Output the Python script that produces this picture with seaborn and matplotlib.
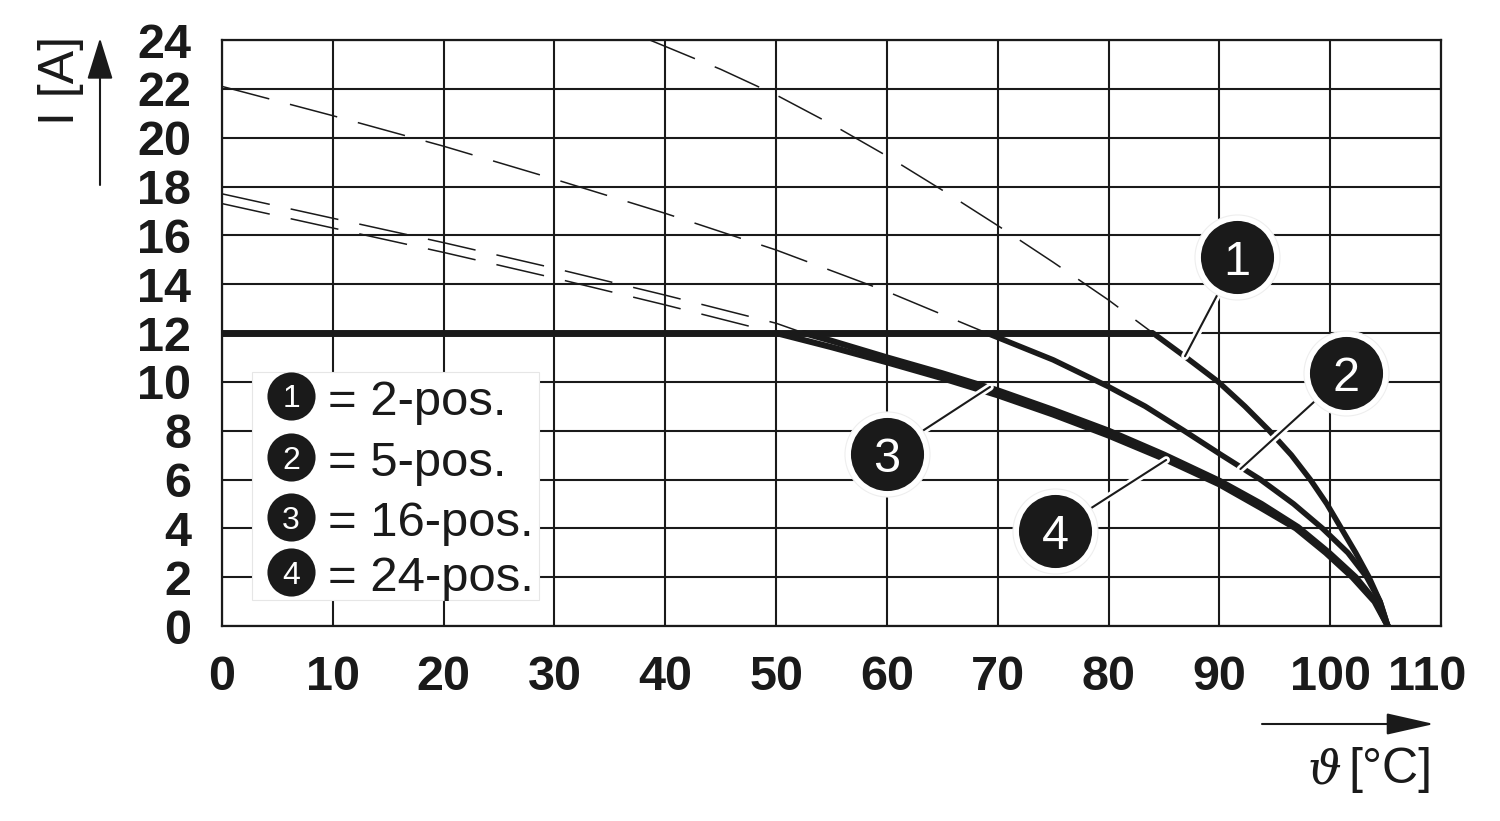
import matplotlib
matplotlib.use("Agg")
import matplotlib.pyplot as plt
from matplotlib.patches import FancyArrowPatch, Rectangle
from matplotlib.transforms import ScaledTranslation
import pandas as pd
import seaborn as sns

INK = "#1a1a1a"

# --- data ---
x_ticks = list(range(0, 111, 10))
y_ticks = list(range(0, 25, 2))

limit_temp = [0, 84]
limit_current = [12, 12]

# extrapolated, dashed parts
dash1_temp = [38.6, 45, 50, 55, 60, 65, 70, 75, 80, 84]
dash1_current = [24, 22.8, 21.75, 20.55, 19.25, 17.85, 16.4, 14.9, 13.35, 12]
dash2_temp = [0, 10, 20, 30, 40, 50, 60, 69]
dash2_current = [22.1, 20.9, 19.65, 18.3, 16.9, 15.4, 13.7, 12]
dash3_temp = [0, 10, 20, 30, 40, 50, 52.5]
dash3_current = [17.7, 16.7, 15.7, 14.65, 13.55, 12.4, 12]
dash4_temp = [0, 10, 20, 30, 40, 50]
dash4_current = [17.3, 16.3, 15.3, 14.25, 13.15, 12]

# derating curves, solid parts
curve1_temp = [84, 87, 89.9, 92.3, 94.5, 96.5, 98.2, 99.7, 101, 102.3, 103.5, 104.5, 105.2]
curve1_current = [12, 11, 10, 9, 8, 7, 6, 5, 4, 3, 2, 1, 0]
curve2_temp = [69, 72, 75, 80, 83.3, 86.8, 90.2, 93.7, 96.7, 99.3, 101.6, 103.3, 104.5, 105.2]
curve2_current = [12, 11.45, 10.9, 9.8, 9, 8, 7, 6, 5, 4, 3, 2, 1, 0]
curve3_temp = [52.5, 55, 60, 65, 70, 75, 80, 85, 90, 93.8, 97.1, 99.9, 102.3, 104.1, 105.2]
curve3_current = [12, 11.68, 11, 10.35, 9.65, 8.85, 8, 7.02, 5.95, 5, 4.05, 3, 2, 1, 0]
curve4_temp = [50, 55, 60, 65, 70, 75, 80, 85, 90, 93.7, 96.9, 99.6, 102, 104, 105.2]
curve4_current = [12, 11.42, 10.8, 10.15, 9.45, 8.66, 7.8, 6.85, 5.8, 4.85, 4, 3, 2, 1, 0]

# numbered callouts and what they point at
badge_labels = ["1", "2", "3", "4"]
badge_x = [91.6, 101.4, 60.0, 75.2]
badge_y = [15.1, 10.36, 7.04, 3.89]
target_x = [86.9, 91.9, 69.3, 85.2]
target_y = [11.05, 6.43, 9.79, 6.8]

# key box
key_labels = ["= 2-pos.", "= 5-pos.", "= 16-pos.", "= 24-pos."]
key_x = [6.23, 6.23, 6.23, 6.23]
key_y = [9.42, 6.92, 4.46, 2.21]

sns.set_style("white")
plt.rcParams["font.family"] = ["Liberation Sans", "DejaVu Sans"]

fig = plt.figure(figsize=(15, 8.21), dpi=100)
ax = fig.add_axes([222 / 1500, 1 - 626 / 821, (1441 - 222) / 1500, (626 - 40) / 821])


def curve(xs, ys, **kw):
    df = pd.DataFrame({"temp": xs, "current": ys})
    sns.lineplot(data=df, x="temp", y="current", sort=False, estimator=None,
                 color=INK, ax=ax, **kw)


# dashes 48 px on, 21 px off
for xs, ys in [(dash1_temp, dash1_current), (dash2_temp, dash2_current),
               (dash3_temp, dash3_current), (dash4_temp, dash4_current)]:
    curve(xs, ys, linewidth=1.1, linestyle=(0, (32, 14)), zorder=3)

curve(limit_temp, limit_current, linewidth=5, zorder=4, solid_capstyle="butt")
for xs, ys in [(curve1_temp, curve1_current), (curve2_temp, curve2_current)]:
    curve(xs, ys, linewidth=4, zorder=4)
for xs, ys in [(curve3_temp, curve3_current), (curve4_temp, curve4_current)]:
    curve(xs, ys, linewidth=4.4, zorder=4)

ax.set_xlim(0, 110)
ax.set_ylim(0, 24)
ax.set_xticks(x_ticks)
ax.set_yticks(y_ticks)
ax.set_xlabel("")
ax.set_ylabel("")
ax.grid(True, color=INK, linewidth=1.5)
ax.set_axisbelow(True)
for s in ax.spines.values():
    s.set_visible(True)
    s.set_color(INK)
    s.set_linewidth(1.6)
ax.tick_params(length=0, labelsize=35, labelcolor=INK)
ax.tick_params(axis="x", pad=21)
ax.tick_params(axis="y", pad=22)
for lab in ax.get_xticklabels() + ax.get_yticklabels():
    lab.set_fontweight("bold")
# 110 sits left of its gridline in the original
last = ax.get_xticklabels()[-1]
last.set_transform(last.get_transform() + ScaledTranslation(-14 / 100, 0, fig.dpi_scale_trans))

# leaders: white halo with a thin black core
for bx, by, tx, ty in zip(badge_x, badge_y, target_x, target_y):
    ax.plot([bx, tx], [by, ty], color="white", linewidth=5.5, zorder=5, solid_capstyle="round")
    ax.plot([bx, tx], [by, ty], color=INK, linewidth=1.5, zorder=6, solid_capstyle="round")

sns.scatterplot(x=badge_x, y=badge_y, s=3750, color="white", edgecolor="#eeeeee", linewidth=0.8,
                ax=ax, zorder=7, clip_on=False, legend=False)
sns.scatterplot(x=badge_x, y=badge_y, s=2770, color=INK, linewidth=0,
                ax=ax, zorder=8, clip_on=False, legend=False)
for lab, bx, by in zip(badge_labels, badge_x, badge_y):
    ax.text(bx, by, lab, color="white", fontsize=35, ha="center", va="center_baseline", zorder=9)

# key box
ax.add_patch(Rectangle((2.7, 1.06), 25.9, 9.34, facecolor="white", edgecolor="#e6e6e6",
                       linewidth=0.8, zorder=5))
sns.scatterplot(x=key_x, y=key_y, s=1200, color=INK, linewidth=0, ax=ax, zorder=6, legend=False)
for i, lab in enumerate(key_labels):
    ax.text(key_x[i], key_y[i], str(i + 1), color="white", fontsize=23, ha="center",
            va="center_baseline", zorder=7)
    ax.text(9.57, key_y[i] - 0.05, lab, color=INK, fontsize=35.4, ha="left",
            va="center_baseline", zorder=7)

# axis arrows and names
fig.add_artist(FancyArrowPatch((100 / 1500, 1 - 185 / 821), (100 / 1500, 1 - 38 / 821),
                               transform=fig.transFigure, arrowstyle="-|>,head_length=2.0,head_width=0.62",
                               mutation_scale=13, color=INK, linewidth=1.5, shrinkA=0, shrinkB=0))
fig.add_artist(FancyArrowPatch((1262 / 1500, 1 - 724 / 821), (1434 / 1500, 1 - 724 / 821),
                               transform=fig.transFigure, arrowstyle="-|>,head_length=2.3,head_width=0.52",
                               mutation_scale=13, color=INK, linewidth=1.5, shrinkA=0, shrinkB=0))
fig.text(61 / 1500, 1 - 80 / 821, "I [A]", rotation=90, fontsize=36, color=INK,
         ha="center", va="center")
fig.text(1308 / 1500, 1 - 783 / 821, "\u03d1", fontsize=34, color=INK, family="DejaVu Serif",
         style="italic", ha="left", va="baseline")
fig.text(1433 / 1500, 1 - 783 / 821, "[°C]", fontsize=36, color=INK, ha="right", va="baseline")

fig.savefig("out.png", dpi=100)
